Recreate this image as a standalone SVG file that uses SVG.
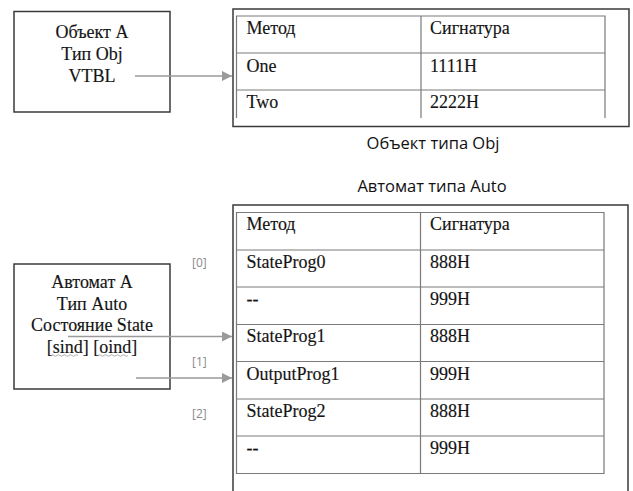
<svg xmlns="http://www.w3.org/2000/svg" width="633" height="491" viewBox="0 0 633 491">
  <style>
    .bg { fill: #ffffff; }
    .box { fill: #ffffff; stroke: #3a3a3a; stroke-width: 1.5; }
    .frame { fill: none; stroke: #3a3a3a; stroke-width: 1.5; }
    .grid { fill: none; stroke: #7a7a7a; stroke-width: 1.2; }
    .serif { font-family: "Liberation Serif", "Times New Roman", serif; font-size: 18px; fill: #141414; stroke: #141414; stroke-width: 0.15; }
    .mid { text-anchor: middle; }
    .caption { font-family: "Open Sans", "Noto Sans", sans-serif; font-size: 16.5px; fill: #111111; text-anchor: middle; }
    .idx { font-family: "Open Sans", "Noto Sans", sans-serif; font-size: 12px; fill: #8a8a8a; }
    .conn { stroke: #9a9a9a; stroke-width: 1.3; fill: none; }
    .squiggle { stroke: #9a9a9a; stroke-width: 0.8; fill: none; }
  </style>
  <defs>
    <marker id="arrow" markerWidth="10" markerHeight="10" refX="10" refY="5" orient="auto" markerUnits="userSpaceOnUse">
      <path d="M0,0 L10,5 L0,10 Z" fill="#9a9a9a"/>
    </marker>
  </defs>
  <rect class="bg" x="0" y="0" width="633" height="491"/>

  <!-- Object A -->
  <g id="object-a">
    <rect class="box" x="14" y="11.5" width="156" height="100.5"/>
    <text class="serif mid" x="92" y="37.5">Объект А</text>
    <text class="serif mid" x="92" y="59.5">Тип Obj</text>
    <text class="serif mid" x="92" y="81.5">VTBL</text>
  </g>

  <!-- VTBL of type Obj -->
  <g id="table-obj">
    <rect class="frame" x="233" y="9" width="396" height="117.5"/>
    <path class="grid" d="M236.5,118 V16 H605 V118 M421,16 V118 M236.5,53 H605 M236.5,90 H605"/>
    <text class="serif" x="246.5" y="34">Метод</text>
    <text class="serif" x="430" y="34">Сигнатура</text>
    <text class="serif" x="246.5" y="72">One</text>
    <text class="serif" x="430" y="72">1111H</text>
    <text class="serif" x="246.5" y="108">Two</text>
    <text class="serif" x="430" y="108">2222H</text>
  </g>
  <text class="caption" x="433" y="149">Объект типа Obj</text>

  <!-- Automaton A -->
  <g id="auto-a">
    <rect class="box" x="14" y="264" width="156" height="125"/>
    <text class="serif mid" x="92" y="288">Автомат А</text>
    <text class="serif mid" x="92" y="309.5">Тип Auto</text>
    <text class="serif mid" x="92" y="331">Состояние State</text>
    <text class="serif mid" x="92" y="352.5">[sind] [oind]</text>
    <path class="squiggle" d="M51,355.5 q1.5,-1.5 3,0 t3,0 t3,0 t3,0 t3,0 t3,0 t3,0 t3,0 t3,0"/>
    <path class="squiggle" d="M98,355.5 q1.5,-1.5 3,0 t3,0 t3,0 t3,0 t3,0 t3,0 t3,0 t3,0 t3,0 t3,0"/>
  </g>

  <!-- Table of type Auto -->
  <text class="caption" x="432" y="192">Автомат типа Auto</text>
  <g id="table-auto">
    <path class="frame" d="M233,491 V205 H628 V491"/>
    <path class="grid" d="M236.5,212.5 H604 V473.5 H236.5 Z M420.5,212.5 V473.5 M236.5,250 H604 M236.5,287 H604 M236.5,324.5 H604 M236.5,361.5 H604 M236.5,399 H604 M236.5,436 H604"/>
    <text class="serif" x="246.5" y="230">Метод</text>
    <text class="serif" x="430" y="230">Сигнатура</text>
    <text class="serif" x="246.5" y="268">StateProg0</text>
    <text class="serif" x="430" y="268">888H</text>
    <text class="serif" x="246.5" y="305">--</text>
    <text class="serif" x="430" y="305">999H</text>
    <text class="serif" x="246.5" y="342">StateProg1</text>
    <text class="serif" x="430" y="342">888H</text>
    <text class="serif" x="246.5" y="380">OutputProg1</text>
    <text class="serif" x="430" y="380">999H</text>
    <text class="serif" x="246.5" y="417">StateProg2</text>
    <text class="serif" x="430" y="417">888H</text>
    <text class="serif" x="246.5" y="454">--</text>
    <text class="serif" x="430" y="454">999H</text>
  </g>

  <!-- Row indices -->
  <g id="indices">
    <text class="idx" x="192" y="267">[0]</text>
    <text class="idx" x="192" y="366">[1]</text>
    <text class="idx" x="192" y="418">[2]</text>
  </g>

  <!-- Connectors -->
  <g id="connectors">
    <line class="conn" x1="135" y1="76" x2="232" y2="76" marker-end="url(#arrow)"/>
    <line class="conn" x1="68" y1="336.5" x2="232" y2="336.5" marker-end="url(#arrow)"/>
    <line class="conn" x1="136" y1="378" x2="232" y2="378" marker-end="url(#arrow)"/>
  </g>
</svg>
